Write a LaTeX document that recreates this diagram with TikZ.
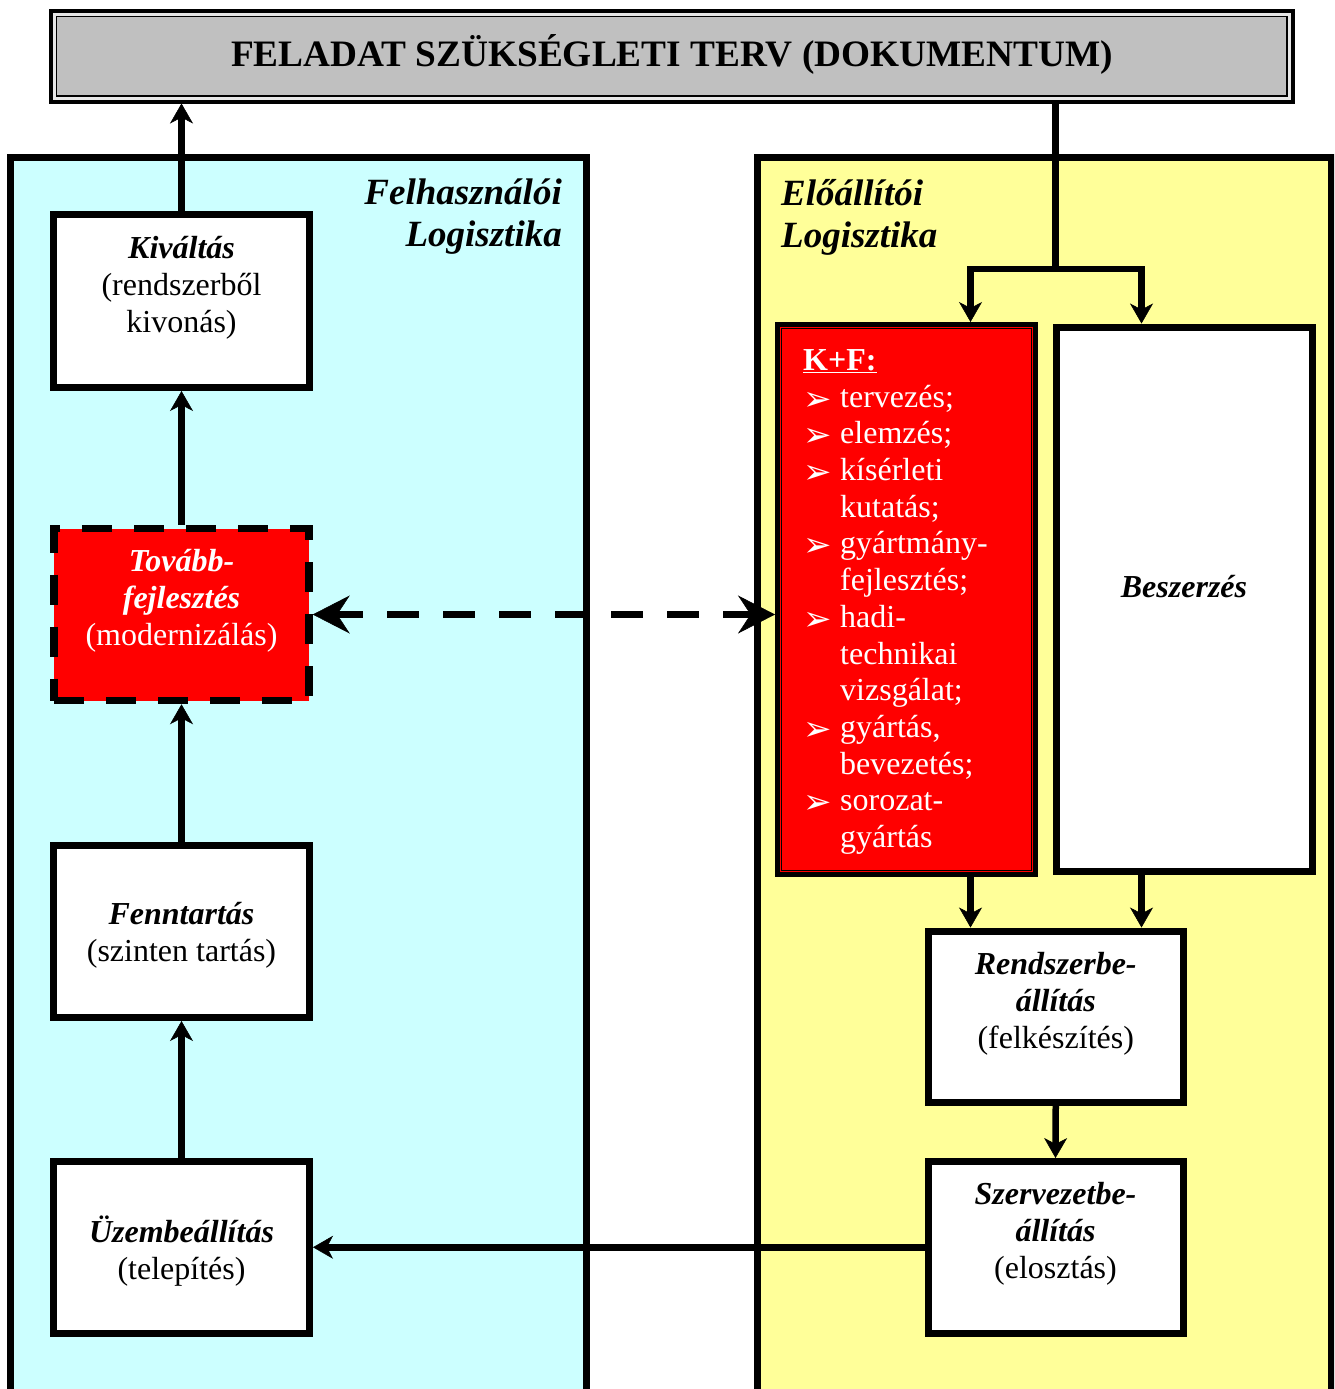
\documentclass[tikz,border=0pt]{standalone}
\usepackage{fontspec}
\setmainfont{Liberation Serif}
\newfontfamily\dejavu{DejaVu Sans}
\usetikzlibrary{arrows.meta}
\definecolor{cyanbg}{HTML}{CCFFFF}
\definecolor{yellowbg}{HTML}{FFFF99}
\definecolor{titlegray}{HTML}{C0C0C0}
\definecolor{titlegap}{HTML}{E6E6E6}
\newcommand{\mybody}{\fontsize{32}{37}\selectfont}
\newcommand{\mylist}{\fontsize{32}{36.7}\selectfont}
\newcommand{\mytitle}{\fontsize{37.3}{42}\selectfont\bfseries}
\newcommand{\mypanel}{\fontsize{37}{42}\selectfont\bfseries\itshape}
\newcommand{\kfbul}{\makebox[37pt][l]{\raisebox{-3pt}[0pt][0pt]{\dejavu\fontsize{34}{34}\selectfont ➢}}}
\newcommand{\kfgap}{\hspace*{37pt}}
\newcommand{\bi}[1]{\textbf{\textit{#1}}}
\begin{document}
\begin{tikzpicture}[x=1pt,y=-1pt,
  box/.style={rectangle, draw=black, fill=white, line width=7pt, inner sep=0pt},
  panel/.style={rectangle, draw=black, line width=7pt, inner sep=0pt},
  txt/.style={align=center, inner sep=0pt, font=\mybody},
  conn/.style={line width=6.5pt, -{Stealth[length=20pt,width=23pt,inset=6pt,line width=0.5pt]}},
  dconn/.style={line width=7.5pt, dash pattern=on 31.7pt off 24.3pt, dash phase=6pt,
    {Stealth[length=37pt,width=38pt,inset=12.5pt,line width=0.5pt]}-{Stealth[length=37pt,width=38pt,inset=12.5pt,line width=0.5pt]}},
  plain/.style={line width=6.5pt}]
\clip (0,0) rectangle (1334,1389);
\fill[white] (0,0) rectangle (1334,1389);
% panels
\node[panel, fill=cyanbg, minimum width=576.5pt, minimum height=1235pt] (lpanel) at (298.25,774.5) {};
\node[panel, fill=yellowbg, minimum width=574pt, minimum height=1235pt] (rpanel) at (1044,774.5) {};
\node[font=\mypanel, align=right, inner sep=0pt, anchor=east] (lptitle) at (562,217) {Felhasználói\\Logisztika};
\node[font=\mypanel, align=left, inner sep=0pt, anchor=west] (rptitle) at (781,217) {Előállítói\\Logisztika};
% title
\node[rectangle, draw=black, fill=titlegap, line width=4pt, minimum width=1241.2pt, minimum height=90.2pt, inner sep=0pt] (title) at (671.9,56.4) {};
\draw[fill=titlegray, line width=1.5pt] ([shift={(7.3,7.3)}]title.north west) rectangle ([shift={(-7.3,-7.3)}]title.south east);
\node[font=\mytitle, inner sep=0pt] (titletext) at (672,54) {FELADAT SZÜKSÉGLETI TERV (DOKUMENTUM)};
% left boxes
\node[box, minimum width=256pt, minimum height=173pt] (kiv) at (181.5,301) {};
\node[box, fill=red, line width=7.5pt, dash pattern=on 30pt off 22pt, minimum width=255pt, minimum height=172pt] (tov) at (181.5,614.5) {};
\node[box, minimum width=256pt, minimum height=172pt] (fen) at (181.5,931.5) {};
\node[box, minimum width=256pt, minimum height=171.5pt] (uzb) at (181.5,1247.25) {};
% right boxes
\node[box, fill=red, line width=5pt, minimum width=258pt, minimum height=550pt] (kf) at (906.5,599.5) {};
\draw[line width=1pt] ([shift={(6.5,6.5)}]kf.north west) rectangle ([shift={(-6.5,-6.5)}]kf.south east);
\node[box, minimum width=256pt, minimum height=544.5pt] (besz) at (1184,599.25) {};
\node[box, minimum width=255.5pt, minimum height=171.5pt] (rb) at (1055.75,1016.75) {};
\node[box, minimum width=255pt, minimum height=171.5pt] (szb) at (1055.5,1247.25) {};
% texts
\node[txt] (kivtx) at (181.5,287.5) {\bi{Kiváltás}\\(rendszerből\\kivonás)};
\node[txt, text=white] (tovtx) at (181.5,600.4) {\bi{Tovább-}\\\bi{fejlesztés}\\(modernizálás)};
\node[txt] (fentx) at (181.5,935.5) {\bi{Fenntartás}\\(szinten tartás)};
\node[txt] (uzbtx) at (181.5,1251) {\bi{Üzembeállítás}\\(telepítés)};
\node[txt] (rbtx) at (1055.75,1004) {\bi{Rendszerbe-}\\\bi{állítás}\\(felkészítés)};
\node[txt] (szbtx) at (1055.5,1234) {\bi{Szervezetbe-}\\\bi{állítás}\\(elosztás)};
\node[txt] (besztx) at (1184,587) {\bi{Beszerzés}};
\node[font=\mylist, text=white, align=left, inner sep=0pt, anchor=west] (kftx) at (803,602)
  {\underline{\textbf{K+F:}}\\\kfbul tervezés;\\\kfbul elemzés;\\\kfbul kísérleti\\\kfgap kutatás;\\\kfbul gyártmány-\\\kfgap fejlesztés;\\\kfbul hadi-\\\kfgap technikai\\\kfgap vizsgálat;\\\kfbul gyártás,\\\kfgap bevezetés;\\\kfbul sorozat-\\\kfgap gyártás};
% connectors
\coordinate (jm) at (1055.5,269);
\coordinate (jl) at (970.5,269);
\coordinate (jr) at (1141.5,269);
\draw[conn] (uzb.north) -- (fen.south);
\draw[conn] (fen.north) -- (tov.south);
\draw[conn] (tov.north) -- (kiv.south);
\draw[conn] (kiv.north) -- (kiv.north |- title.south);
\draw[plain] (title.south -| jm) -- (jm);
\draw[conn] (jm) -| (kf.north -| jl);
\draw[conn] (jm) -| (besz.north -| jr);
\draw[conn] (kf.south -| jl) -- (rb.north -| jl);
\draw[conn] (besz.south -| jr) -- (rb.north -| jr);
\draw[conn] (rb.south) -- (szb.north);
\draw[conn] (szb.west) -- (uzb.east);
\draw[dconn] (tov.east) -- (tov.east -| kf.west);
\end{tikzpicture}
\end{document}
